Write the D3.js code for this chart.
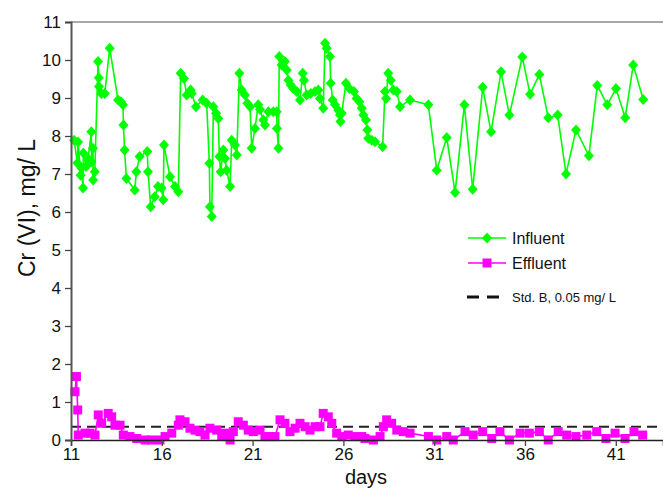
<!DOCTYPE html>
<html>
	<head>
		<meta charset="utf-8">
		<style type="text/css">
			body { margin: 0; background: #fff; font-family: "Liberation Sans", Arial, sans-serif; }
			svg { display: block; }
		</style>
		<title>Cr (VI)</title>
	</head>
	<body>
		<script src="https://cdn.jsdelivr.net/npm/d3@7"></script>
		<script>
		// influent: day of sampling and Cr(VI) in mg/L
		var inDays = [11.17, 11.35, 11.39, 11.53, 11.57, 11.66, 11.68, 11.83, 11.94, 12.12, 12.13, 12.21, 12.22, 12.31,
			12.49, 12.53, 12.54, 12.67, 12.86, 13.13, 13.59, 13.75, 13.86, 13.89, 13.95, 14.05, 14.51, 14.6, 14.78,
			15.2, 15.24, 15.39, 15.61, 15.79, 15.99, 16.08, 16.12, 16.45, 16.73, 16.91, 17.04, 17.22, 17.37, 17.59,
			17.65, 17.88, 18.25, 18.47, 18.62, 18.65, 18.75, 18.84, 18.99, 19.11, 19.17, 19.24, 19.39, 19.48, 19.57,
			19.76, 19.85, 20.03, 20.13, 20.27, 20.4, 20.58, 20.71, 20.86, 20.95, 21.13, 21.31, 21.41, 21.59, 21.68,
			21.87, 22.14, 22.33, 22.34, 22.42, 22.47, 22.6, 22.78, 22.88, 22.97, 23.1, 23.24, 23.43, 23.61, 23.76,
			23.83, 23.98, 24.2, 24.44, 24.62, 24.71, 24.89, 24.99, 25.08, 25.26, 25.3, 25.41, 25.54, 25.72, 25.81,
			25.84, 25.91, 26.14, 26.33, 26.58, 26.73, 26.88, 27.01, 27.1, 27.24, 27.32, 27.37, 27.56, 27.74, 28.16,
			28.29, 28.35, 28.47, 28.61, 28.75, 28.94, 29.12, 29.67, 30.68, 31.14, 31.69, 32.15, 32.66, 33.12, 33.67,
			34.13, 34.68, 35.14, 35.85, 36.28, 36.79, 37.28, 37.8, 38.26, 38.81, 39.52, 39.98, 40.53, 41.01, 41.52,
			41.96, 42.51];
		var inValues = [7.89, 7.29, 7.84, 6.97, 7.16, 6.63, 7.55, 7.2, 7.4, 8.11, 7.32, 7.68, 6.84, 7.06,
			9.96, 9.53, 9.3, 9.12, 9.12, 10.31, 8.95, 8.9, 8.82, 8.29, 7.63, 6.88, 6.58, 7.06, 7.46,
			7.59, 7.06, 6.14, 6.4, 6.67, 6.63, 6.32, 7.76, 6.93, 6.67, 6.53, 9.65, 9.51, 9.08, 9.21,
			9.12, 8.77, 8.95, 8.86, 7.28, 6.14, 5.88, 8.77, 8.6, 8.46, 7.46, 7.06, 7.63, 7.41, 7.1,
			6.67, 7.89, 7.76, 7.5, 9.65, 9.21, 9.08, 8.86, 8.77, 7.68, 8.2, 8.82, 8.7, 8.42, 8.29,
			8.64, 8.64, 8.64, 8.2, 7.68, 10.09, 9.87, 9.96, 9.74, 9.47, 9.34, 9.25, 9.17, 8.95, 9.65,
			9.47, 9.08, 9.12, 9.17, 9.21, 8.99, 8.73, 10.44, 10.31, 10.09, 9.39, 8.95, 8.82, 8.68, 8.55,
			8.38, 8.6, 9.39, 9.25, 9.17, 8.99, 8.9, 8.73, 8.55, 8.42, 8.16, 7.94, 7.89, 7.85, 7.72,
			9.17, 8.99, 9.65, 9.47, 9.21, 9.17, 8.77, 8.95, 8.82, 7.1, 7.96, 6.51, 8.82, 6.6, 9.28,
			8.11, 9.69, 8.55, 10.08, 9.1, 9.62, 8.48, 8.55, 7.0, 8.16, 7.48, 9.33, 8.82, 9.25, 8.48,
			9.87, 8.96];

		// effluent
		var outDays = [11.22, 11.3, 11.37, 11.4, 11.77, 12.05, 12.32, 12.5, 12.69, 13.05, 13.24, 13.42, 13.7, 13.88,
			14.25, 14.62, 15.08, 15.44, 15.9, 16.18, 16.55, 16.91, 17.0, 17.28, 17.55, 17.83, 18.1, 18.38, 18.65,
			19.02, 19.3, 19.48, 19.76, 19.94, 20.21, 20.49, 20.76, 21.04, 21.41, 21.68, 21.96, 22.23, 22.51, 22.78,
			23.06, 23.34, 23.61, 23.89, 24.16, 24.44, 24.71, 24.89, 25.17, 25.36, 25.63, 25.91, 26.27, 26.64, 27.01,
			27.19, 27.65, 28.02, 28.2, 28.38, 28.66, 28.94, 29.3, 29.67, 30.68, 31.14, 31.69, 32.05, 32.7, 33.15,
			33.67, 34.17, 34.62, 35.14, 35.73, 36.24, 36.79, 37.28, 37.83, 38.3, 38.81, 39.4, 39.95, 40.46, 40.96,
			41.51, 42.0, 42.48];
		var outValues = [1.27, 1.67, 0.79, 0.13, 0.18, 0.18, 0.13, 0.66, 0.44, 0.7, 0.61, 0.39, 0.39, 0.13,
			0.09, 0.04, 0.0, 0.0, 0.0, 0.09, 0.18, 0.39, 0.53, 0.48, 0.31, 0.26, 0.22, 0.13, 0.31,
			0.26, 0.09, 0.18, 0.0, 0.22, 0.48, 0.39, 0.26, 0.22, 0.26, 0.09, 0.09, 0.09, 0.53, 0.44,
			0.22, 0.31, 0.44, 0.35, 0.26, 0.35, 0.35, 0.7, 0.61, 0.44, 0.18, 0.09, 0.13, 0.09, 0.09,
			0.04, 0.0, 0.09, 0.35, 0.53, 0.44, 0.26, 0.22, 0.18, 0.09, 0.0, 0.09, 0.0, 0.22, 0.13,
			0.22, 0.04, 0.22, 0.0, 0.18, 0.18, 0.22, 0.0, 0.22, 0.13, 0.09, 0.13, 0.22, 0.04, 0.18,
			0.04, 0.22, 0.13];

		var stdLimit = 0.35;
		var xTicks = [11, 16, 21, 26, 31, 36, 41];
		var yTicks = [0, 1, 2, 3, 4, 5, 6, 7, 8, 9, 10, 11];
		var seriesNames = ["Influent", "Effluent"];
		var stdName = "Std. B, 0.05 mg/ L";

		var W = 663, H = 489;
		var margin = {top: 22, right: 0, bottom: 49, left: 71};
		var width = W - margin.left - margin.right;
		var height = H - margin.top - margin.bottom;

		var x = d3.scaleLinear().domain([11, 43.6]).range([0, width]);
		var y = d3.scaleLinear().domain([0, 11]).range([height, 0]);

		var svg = d3.select("body").append("svg")
			.attr("width", W)
			.attr("height", H);
		var g = svg.append("g")
			.attr("transform", "translate(" + margin.left + "," + margin.top + ")");

		// top frame line
		g.append("line")
			.attr("x1", 0).attr("x2", width)
			.attr("y1", 0).attr("y2", 0)
			.attr("stroke", "#8c8c8c").attr("stroke-width", 1.5);

		var inData = inDays.map(function(d, i){ return {x: d, y: inValues[i]}; });
		var outData = outDays.map(function(d, i){ return {x: d, y: outValues[i]}; });

		var line = d3.line()
			.x(function(d){ return x(d.x); })
			.y(function(d){ return y(d.y); });

		// std B limit
		g.append("line")
			.attr("x1", 0).attr("x2", width)
			.attr("y1", y(stdLimit)).attr("y2", y(stdLimit))
			.attr("stroke", "#222").attr("stroke-width", 2)
			.attr("stroke-dasharray", "10,6");

		var diamond = "M0,-5.5L5,0L0,5.5L-5,0Z";

		g.append("path").datum(inData)
			.attr("d", line)
			.attr("fill", "none")
			.attr("stroke", "#00ff00")
			.attr("stroke-width", 1.6);
		g.selectAll(".inpt").data(inData).enter()
			.append("path")
			.attr("class", "inpt")
			.attr("d", diamond)
			.attr("transform", function(d){ return "translate(" + x(d.x) + "," + y(d.y) + ")"; })
			.attr("fill", "#00ff00");

		g.append("path").datum(outData)
			.attr("d", line)
			.attr("fill", "none")
			.attr("stroke", "#ff00ff")
			.attr("stroke-width", 1.6);
		g.selectAll(".outpt").data(outData).enter()
			.append("rect")
			.attr("class", "outpt")
			.attr("x", function(d){ return x(d.x) - 4.5; })
			.attr("y", function(d){ return y(d.y) - 4.5; })
			.attr("width", 9)
			.attr("height", 9)
			.attr("fill", "#ff00ff");

		// axes
		var xAxis = d3.axisBottom(x).tickValues(xTicks).tickSize(6).tickPadding(2);
		var yAxis = d3.axisLeft(y).tickValues(yTicks).tickSize(6).tickPadding(4);

		var gx = g.append("g")
			.attr("transform", "translate(0," + height + ")")
			.call(xAxis);
		gx.select(".domain").attr("stroke", "#222").attr("stroke-width", 1.5);
		gx.selectAll(".tick line").attr("stroke", "#444").attr("stroke-width", 1.3);
		gx.selectAll("text").attr("font-size", 17).attr("font-family", "Liberation Sans, Arial, sans-serif").attr("fill", "#111");

		var gy = g.append("g").call(yAxis);
		gy.select(".domain").attr("stroke", "#555").attr("stroke-width", 2);
		gy.selectAll(".tick line").attr("stroke", "#444").attr("stroke-width", 1.3);
		gy.selectAll("text").attr("font-size", 17).attr("font-family", "Liberation Sans, Arial, sans-serif").attr("fill", "#111");

		svg.append("text")
			.attr("transform", "translate(35,208) rotate(-90)")
			.attr("text-anchor", "middle")
			.attr("font-size", 23)
			.attr("fill", "#111")
			.text("Cr (VI), mg/ L");

		svg.append("text")
			.attr("x", 366).attr("y", 484)
			.attr("text-anchor", "middle")
			.attr("font-size", 20)
			.attr("fill", "#111")
			.text("days");

		// legend
		var leg = svg.append("g").attr("transform", "translate(468,238)");
		var legColors = ["#00ff00", "#ff00ff"];
		seriesNames.forEach(function(name, i){
			var row = leg.append("g").attr("transform", "translate(0," + (i * 25) + ")");
			row.append("line")
				.attr("x1", 0).attr("x2", 38)
				.attr("stroke", legColors[i]).attr("stroke-width", 1.6);
			if (i == 0) {
				row.append("path").attr("d", diamond).attr("transform", "translate(19,0)").attr("fill", legColors[i]);
			} else {
				row.append("rect").attr("x", 14.5).attr("y", -4.5).attr("width", 9).attr("height", 9).attr("fill", legColors[i]);
			}
			row.append("text")
				.attr("x", 44).attr("y", 6)
				.attr("font-size", 16)
				.attr("fill", "#111")
				.text(name);
		});
		var stdRow = leg.append("g").attr("transform", "translate(0,59)");
		stdRow.append("line")
			.attr("x1", -1).attr("x2", 32)
			.attr("stroke", "#111").attr("stroke-width", 3)
			.attr("stroke-dasharray", "12,8");
		stdRow.append("text")
			.attr("x", 44).attr("y", 5)
			.attr("font-size", 13)
			.attr("fill", "#111")
			.text(stdName);
		</script>
	</body>
</html>
